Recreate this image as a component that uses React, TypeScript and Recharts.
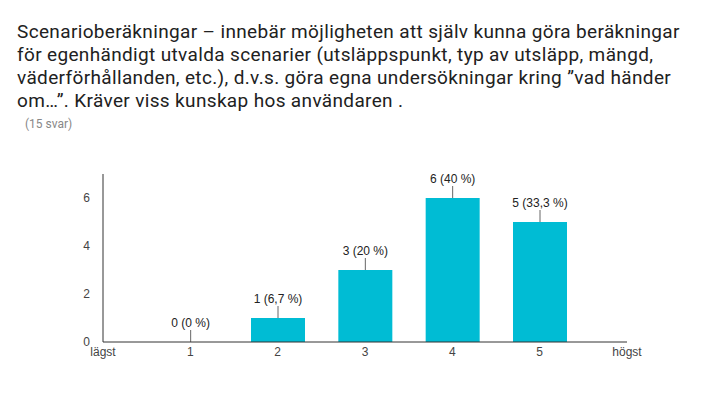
import { BarChart, Bar, XAxis, YAxis } from 'recharts';

const TITLE_LINES = [
  'Scenarioberäkningar – innebär möjligheten att själv kunna göra beräkningar',
  'för egenhändigt utvalda scenarier (utsläppspunkt, typ av utsläpp, mängd,',
  'väderförhållanden, etc.), d.v.s. göra egna undersökningar kring ”vad händer',
  'om…”. Kräver viss kunskap hos användaren .',
];
const RESPONSES = '(15 svar)';

const scores = [1, 2, 3, 4, 5];
const counts = [0, 1, 3, 6, 5];
const percentLabels = ['0 (0 %)', '1 (6,7 %)', '3 (20 %)', '6 (40 %)', '5 (33,3 %)'];
const xTicks = [0, 1, 2, 3, 4, 5, 6];
const xTickLabels = ['lägst', '1', '2', '3', '4', '5', 'högst'];
const yTicks = [0, 2, 4, 6];

const data = scores.map((s, i) => ({ score: s, count: counts[i], label: percentLabels[i] }));

const FONT = "Arial, 'Liberation Sans', sans-serif";

// bar rect plus the label with a short leader line (also drawn for zero bars)
const BarWithLabel = (props: any) => {
  const { x, y, width, height, fill, payload } = props;
  const cx = Number(x) + Number(width) / 2;
  const h = Math.abs(Number(height));
  const top = Math.min(Number(y), Number(y) + Number(height));
  return (
    <g>
      {h > 0 && <rect x={x} y={top} width={width} height={h} fill={fill} />}
      <line x1={cx} y1={top} x2={cx} y2={top - 12} stroke="#666" strokeWidth={1} />
      <text x={cx} y={top - 15} textAnchor="middle" fontSize={12} fill="#222" fontFamily={FONT}>
        {payload.label}
      </text>
    </g>
  );
};

export default function App() {
  return (
    <div style={{ position: 'absolute', left: 0, top: 0, width: 707, height: 400, background: '#fff' }}>
      <div
        style={{
          position: 'absolute',
          left: 17,
          top: 20,
          fontFamily: 'Roboto, sans-serif',
          fontSize: 19,
          letterSpacing: 0.35,
          lineHeight: '23px',
          color: '#212121',
          whiteSpace: 'nowrap',
        }}
      >
        {TITLE_LINES.map((l) => (
          <div key={l}>{l}</div>
        ))}
      </div>
      <div
        style={{
          position: 'absolute',
          left: 25,
          top: 117,
          fontFamily: 'Roboto, sans-serif',
          fontSize: 12,
          lineHeight: '14px',
          color: '#888',
        }}
      >
        {RESPONSES}
      </div>
      <div style={{ position: 'absolute', left: 0, top: 0 }}>
        <BarChart width={707} height={400} data={data} margin={{ top: 174, right: 80, bottom: 38, left: 63 }}>
          <XAxis
            dataKey="score"
            type="number"
            domain={[0, 6]}
            ticks={xTicks}
            tickFormatter={(v: number) => xTickLabels[v]}
            height={20}
            tickLine={false}
            tickSize={0}
            tickMargin={5}
            axisLine={{ stroke: '#333' }}
            tick={{ fill: '#444', fontSize: 12, fontFamily: FONT }}
            interval={0}
          />
          <YAxis
            type="number"
            domain={[0, 7]}
            ticks={yTicks}
            width={40}
            tickLine={false}
            tickSize={6}
            tickMargin={7}
            axisLine={{ stroke: '#333' }}
            tick={{ fill: '#444', fontSize: 12, fontFamily: FONT }}
          />
          <Bar dataKey="count" fill="#00bcd4" barSize={54} isAnimationActive={false} shape={BarWithLabel} />
        </BarChart>
      </div>
    </div>
  );
}
